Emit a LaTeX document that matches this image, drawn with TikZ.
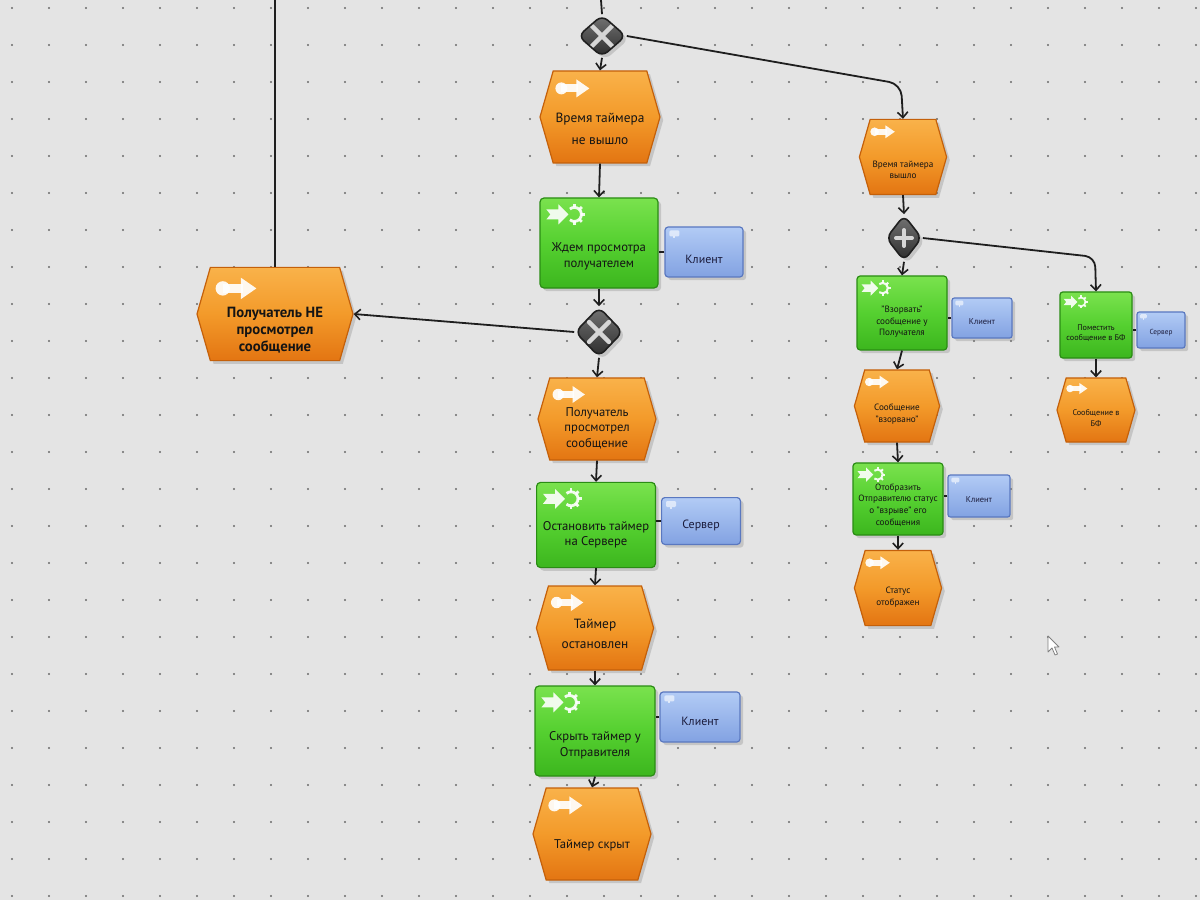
\documentclass[tikz,border=0pt]{standalone}
\usepackage{fontspec}
\setmainfont{PT Sans}
\usetikzlibrary{shapes.symbols,shapes.geometric,calc,arrows.meta,shadows}
\definecolor{bgc}{HTML}{E4E4E4}
\definecolor{dotc}{HTML}{6A6A6A}
\definecolor{evtop}{HTML}{F9B24A}
\definecolor{evmid}{HTML}{F39A2A}
\definecolor{evbot}{HTML}{E37512}
\definecolor{evbd}{HTML}{C4600A}
\definecolor{fntop}{HTML}{7AE24E}
\definecolor{fnmid}{HTML}{55D030}
\definecolor{fnbot}{HTML}{3CB61E}
\definecolor{fnbd}{HTML}{2A8C14}
\definecolor{cltop}{HTML}{B2CBF5}
\definecolor{clbot}{HTML}{82A2E2}
\definecolor{clbd}{HTML}{5A78C0}
\definecolor{gtop}{HTML}{747474}
\definecolor{gbot}{HTML}{2C2C2C}
\definecolor{gbd}{HTML}{202020}
\definecolor{gsymc}{HTML}{D6D6D6}
\definecolor{txtc}{HTML}{141414}
\definecolor{cltxt}{HTML}{1A1A3A}
\definecolor{linec}{HTML}{1E1E1E}

% icons drawn relative to the top-left corner of the node's bounding box
\newcommand\evico[2]{%
  \begin{scope}[shift={(#1.west |- #1.north)},scale=#2]
    \fill[white,opacity=0.92] (22,18) circle[radius=6];
    \fill[white,opacity=0.92] (22,14) rectangle (39,22);
    \fill[white,opacity=0.92] (37,9) -- (50,18) -- (37,27) -- cycle;
  \end{scope}}
\newcommand\fnico[2]{%
  \begin{scope}[shift={(#1.west |- #1.north)},scale=#2]
    \fill[white,opacity=0.9] (7,12) -- (19,12) -- (19,7) -- (29,17) -- (19,27) -- (19,22) -- (7,22) -- (11,17) -- cycle;
    \draw[white,opacity=0.9,line width=#2*0.7mm] (35,17) ++(130:7) arc[start angle=130,end angle=-130,radius=7];
    \foreach \a in {90,45,0,-45,-90}
      \draw[white,opacity=0.9,line width=#2*0.7mm] (35,17) ++(\a:7) -- ++(\a:3.5);
  \end{scope}}
\newcommand\clico[2]{%
  \begin{scope}[shift={(#1.west |- #1.north)},scale=#2]
    \fill[white,opacity=0.6,rounded corners=0.3mm] (5,4) rectangle (15,10);
    \fill[white,opacity=0.6] (9,10) rectangle (11,12);
  \end{scope}}
\newcommand\xsym[1]{%
  \begin{scope}[shift={(path picture bounding box.center)}]
    \draw[gsymc,line width=1.1mm,line cap=round] (-#1,-#1) -- (#1,#1) (-#1,#1) -- (#1,-#1);
  \end{scope}}
\newcommand\psym[1]{%
  \begin{scope}[shift={(path picture bounding box.center)}]
    \draw[gsymc,line width=1.0mm,line cap=round] (-#1,0) -- (#1,0) (0,-#1) -- (0,#1);
  \end{scope}}

\begin{document}
\begin{tikzpicture}[x=0.25mm,y=-0.25mm,
  shade/.style={drop shadow={shadow xshift=0.8mm,shadow yshift=-0.8mm,opacity=0.3}},
  evt/.style={shape=signal, signal to=west and east, signal pointer angle=148,
    draw=evbd, line width=0.3mm, top color=evtop, bottom color=evbot, middle color=evmid,
    inner sep=0pt, shade},
  fn/.style={rectangle, rounded corners=1mm, draw=fnbd, line width=0.3mm,
    top color=fntop, bottom color=fnbot, middle color=fnmid, inner sep=0pt, shade},
  cl/.style={rectangle, rounded corners=0.8mm, draw=clbd, line width=0.3mm,
    top color=cltop, bottom color=clbot, inner sep=0pt, shade},
  gate/.style={shape=diamond, rounded corners=1.8mm, draw=gbd, line width=0.4mm,
    top color=gtop, bottom color=gbot, inner sep=0pt, shade},
  mtxt/.style={font=\fontsize{9}{11}\selectfont, align=center, text=txtc, inner sep=0pt},
  rtxt/.style={font=\fontsize{6.5}{8.3}\selectfont, align=center, text=txtc, inner sep=0pt},
  ctxt/.style={font=\fontsize{8.5}{10}\selectfont, text=cltxt, inner sep=0pt},
  crtxt/.style={font=\fontsize{6}{7}\selectfont, text=cltxt, inner sep=0pt},
  con/.style={draw=linec, line width=0.45mm},
  arr/.style={con, -{Straight Barb[length=1.4mm,width=2.6mm,line width=0.4mm]}}
]
\useasboundingbox (0,0) rectangle (1200,900);
\fill[bgc] (0,0) rectangle (1200,900);
\foreach \i in {0,...,32} \foreach \j in {0,...,24}
  \fill[dotc] (12+37*\i, 8+37*\j) circle[radius=1.1];

% ---------- main column ----------
\coordinate (tt) at (601,0);
\coordinate (lt) at (275,0);
\node[gate, minimum width=12mm, minimum height=10.5mm, path picture={\xsym{10}}] (g1) at (602,36) {};
\node[evt, minimum width=30mm, minimum height=23mm,
  label={[mtxt,font=\fontsize{9.5}{16}\selectfont,yshift=-3mm]center:Время таймера\\не вышло}] (E1) at (600,117) {};
\node[fn, minimum width=29.5mm, minimum height=22.5mm,
  label={[mtxt,yshift=-3.3mm]center:Ждем просмотра\\получателем}] (F1) at (599,243) {};
\node[cl, minimum width=19.5mm, minimum height=12.5mm,
  label={[ctxt,yshift=-1.8mm]center:Клиент}] (K1) at (704,252) {};
\node[gate, minimum width=12mm, minimum height=12.5mm, path picture={\xsym{10}}] (g2) at (599,332) {};
\node[evt, minimum width=39mm, minimum height=23.3mm,
  label={[mtxt,font=\bfseries\fontsize{10.5}{12}\selectfont,yshift=-4mm]center:Получатель НЕ\\просмотрел\\сообщение}] (E2) at (275,314) {};
\node[evt, minimum width=29.5mm, minimum height=20.5mm,
  label={[mtxt,yshift=-2.3mm]center:Получатель\\просмотрел\\сообщение}] (E3) at (597,419) {};
\node[fn, minimum width=29.7mm, minimum height=21.3mm,
  label={[mtxt,yshift=-2.5mm]center:Остановить таймер\\на Сервере}] (F2) at (596,525) {};
\node[cl, minimum width=19.7mm, minimum height=11.7mm,
  label={[ctxt,yshift=-1.2mm]center:Сервер}] (K2) at (701,521) {};
\node[evt, minimum width=29.3mm, minimum height=21mm,
  label={[mtxt,font=\fontsize{9.5}{14.5}\selectfont,yshift=-1.5mm]center:Таймер\\остановлен}] (E4) at (595,628) {};
\node[fn, minimum width=30mm, minimum height=22.5mm,
  label={[mtxt,yshift=-3.6mm]center:Скрыть таймер у\\Отправителя}] (F3) at (595,731) {};
\node[cl, minimum width=20mm, minimum height=12.5mm,
  label={[ctxt,yshift=-1.2mm]center:Клиент}] (K3) at (700,717) {};
\node[evt, minimum width=29.5mm, minimum height=23mm,
  label={[mtxt,yshift=-2.8mm]center:Таймер скрыт}] (E5) at (592,834) {};

% ---------- right column ----------
\coordinate (c1) at (901,84);
\coordinate (c2) at (1095,257);
\node[evt, minimum width=21.8mm, minimum height=18.8mm,
  label={[rtxt,yshift=-3.2mm]center:Время таймера\\вышло}] (E6) at (903,157) {};
\node[gate, minimum width=9mm, minimum height=11.5mm, path picture={\psym{8}}] (g3) at (904,238) {};
\node[fn, minimum width=22.5mm, minimum height=18.5mm, rounded corners=0.8mm,
  label={[rtxt,yshift=-2.2mm]center:"Взорвать"\\сообщение у\\Получателя}] (F4) at (902,313) {};
\node[cl, minimum width=15mm, minimum height=10mm, rounded corners=0.6mm,
  label={[crtxt,yshift=-0.8mm]center:Клиент}] (K4) at (982,318) {};
\node[fn, minimum width=18mm, minimum height=16.5mm, rounded corners=0.7mm,
  label={[rtxt,font=\fontsize{5.8}{7.5}\selectfont,yshift=-2mm]center:Поместить\\сообщение в БФ}] (F5) at (1096,325) {};
\node[cl, minimum width=12mm, minimum height=9mm, rounded corners=0.6mm,
  label={[crtxt,font=\fontsize{5.2}{6}\selectfont,yshift=-0.6mm]center:Сервер}] (K5) at (1161,330) {};
\node[evt, minimum width=21.3mm, minimum height=18mm,
  label={[rtxt,yshift=-2mm]center:Сообщение\\"взорвано"}] (E7) at (897,406) {};
\node[evt, minimum width=19.5mm, minimum height=16mm,
  label={[rtxt,font=\fontsize{5.8}{7.5}\selectfont,yshift=-2mm]center:Сообщение в\\БФ}] (E8) at (1096,410) {};
\node[fn, minimum width=22.5mm, minimum height=18mm, rounded corners=0.8mm,
  label={[rtxt,yshift=-1.5mm]center:Отобразить\\Отправителю статус\\о "взрыве" его\\сообщения}] (F6) at (898,499) {};
\node[cl, minimum width=15.5mm, minimum height=10.5mm, rounded corners=0.6mm,
  label={[crtxt,yshift=-0.8mm]center:Клиент}] (K6) at (979,496) {};
\node[evt, minimum width=21.8mm, minimum height=18.8mm,
  label={[rtxt,yshift=-2.3mm]center:Статус\\отображен}] (E9) at (898,588) {};

% ---------- icons ----------
\evico{E1}{1}
\evico{E2}{1.2}
\evico{E3}{0.95}
\evico{E4}{0.95}
\evico{E5}{1}
\evico{E6}{0.72}
\evico{E7}{0.7}
\evico{E8}{0.62}
\evico{E9}{0.72}
\fnico{F1}{1}
\fnico{F2}{1}
\fnico{F3}{1}
\fnico{F4}{0.75}
\fnico{F5}{0.62}
\fnico{F6}{0.72}
\clico{K1}{1}
\clico{K2}{1}
\clico{K3}{1}
\clico{K4}{0.8}
\clico{K5}{0.7}
\clico{K6}{0.8}

% ---------- connectors ----------
\draw[con] (tt) -- (g1.north);
\draw[con] (lt) -- (E2.north);
\draw[arr] (g1.south) -- (E1.north);
\draw[arr, rounded corners=3mm] (g1.east) -- (c1) -- (E6.north);
\draw[arr] (E1.south) -- (F1.north);
\draw[con] (K1.west) -- (K1.west -| F1.east);
\draw[arr] (F1.south) -- (g2.north);
\draw[arr] (g2.west) -- (E2.east);
\draw[arr] (g2.south) -- (E3.north);
\draw[arr] (E3.south) -- (F2.north);
\draw[con] (K2.west) -- (K2.west -| F2.east);
\draw[arr] (F2.south) -- (E4.north);
\draw[arr] (E4.south) -- (F3.north);
\draw[con] (K3.west) -- (K3.west -| F3.east);
\draw[arr] (F3.south) -- (E5.north);

\draw[arr] (E6.south) -- (g3.north);
\draw[arr] (g3.south) -- (F4.north);
\draw[arr, rounded corners=2.5mm] (g3.east) -- (c2) -- (F5.north);
\draw[con] (K4.west) -- (K4.west -| F4.east);
\draw[con] (K5.west) -- (K5.west -| F5.east);
\draw[arr] (F4.south) -- (E7.north);
\draw[arr] (F5.south) -- (E8.north);
\draw[arr] (E7.south) -- (F6.north);
\draw[con] (K6.west) -- (K6.west -| F6.east);
\draw[arr] (F6.south) -- (E9.north);

% mouse cursor
\draw[fill=white, draw=gray, line width=0.2mm, line join=round]
  (1048,636) -- (1048,652) -- (1052,648) -- (1055,655) -- (1057.5,654) -- (1054.5,647) -- (1059,647) -- cycle;
\end{tikzpicture}
\end{document}
